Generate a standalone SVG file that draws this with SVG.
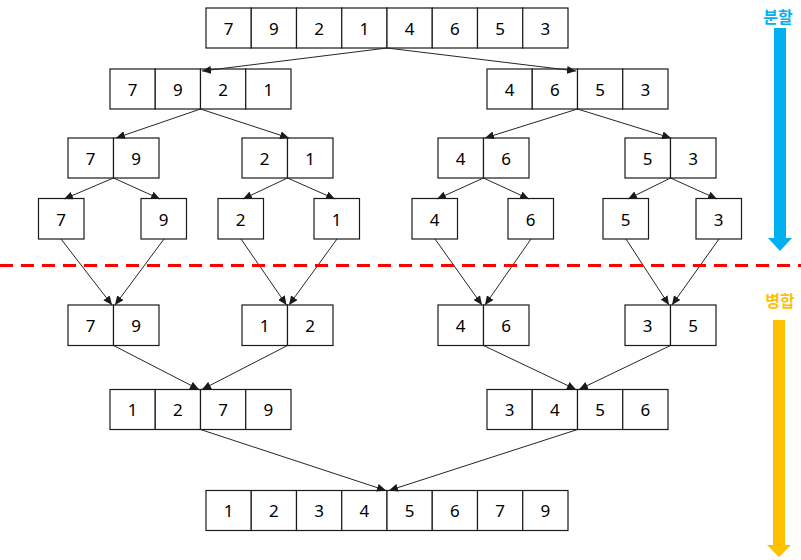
<svg xmlns="http://www.w3.org/2000/svg" width="801" height="560" viewBox="0 0 801 560">
<style>
.c{fill:#fff;stroke:#1a1a1a;stroke-width:1.2}
.t{font-family:"Noto Sans","DejaVu Sans",sans-serif;font-size:17px;fill:#000;text-anchor:middle;dominant-baseline:central}
.k{font-family:"Noto Sans CJK KR",sans-serif;font-size:16px;font-weight:bold;text-anchor:middle;dominant-baseline:central}
.a{stroke:#262626;stroke-width:1;fill:none;marker-end:url(#ah)}
</style>
<defs>
<marker id="ah" markerUnits="userSpaceOnUse" markerWidth="10" markerHeight="8" refX="9" refY="4" orient="auto">
<path d="M0,0 L9,4 L0,8 z" fill="#1a1a1a"/>
</marker>
</defs>
<rect width="801" height="560" fill="#fff"/>

<g id="row1">
<rect class="c" x="206" y="8" width="45.25" height="40"/><text class="t" x="228.6" y="28">7</text>
<rect class="c" x="251.25" y="8" width="45.25" height="40"/><text class="t" x="273.9" y="28">9</text>
<rect class="c" x="296.5" y="8" width="45.25" height="40"/><text class="t" x="319.1" y="28">2</text>
<rect class="c" x="341.75" y="8" width="45.25" height="40"/><text class="t" x="364.4" y="28">1</text>
<rect class="c" x="387" y="8" width="45.25" height="40"/><text class="t" x="409.6" y="28">4</text>
<rect class="c" x="432.25" y="8" width="45.25" height="40"/><text class="t" x="454.9" y="28">6</text>
<rect class="c" x="477.5" y="8" width="45.25" height="40"/><text class="t" x="500.1" y="28">5</text>
<rect class="c" x="522.75" y="8" width="45.25" height="40"/><text class="t" x="545.4" y="28">3</text>
</g>

<g id="row2-left">
<rect class="c" x="110" y="69" width="45.25" height="40"/><text class="t" x="132.6" y="89">7</text>
<rect class="c" x="155.25" y="69" width="45.25" height="40"/><text class="t" x="177.9" y="89">9</text>
<rect class="c" x="200.5" y="69" width="45.25" height="40"/><text class="t" x="223.1" y="89">2</text>
<rect class="c" x="245.75" y="69" width="45.25" height="40"/><text class="t" x="268.4" y="89">1</text>
</g>
<g id="row2-right">
<rect class="c" x="487" y="69" width="45.25" height="40"/><text class="t" x="509.6" y="89">4</text>
<rect class="c" x="532.25" y="69" width="45.25" height="40"/><text class="t" x="554.9" y="89">6</text>
<rect class="c" x="577.5" y="69" width="45.25" height="40"/><text class="t" x="600.1" y="89">5</text>
<rect class="c" x="622.75" y="69" width="45.25" height="40"/><text class="t" x="645.4" y="89">3</text>
</g>

<g id="row3-a">
<rect class="c" x="68" y="138" width="45.5" height="40"/><text class="t" x="90.7" y="158">7</text>
<rect class="c" x="113.5" y="138" width="45.5" height="40"/><text class="t" x="136.2" y="158">9</text>
</g>
<g id="row3-b">
<rect class="c" x="242" y="138" width="45.5" height="40"/><text class="t" x="264.7" y="158">2</text>
<rect class="c" x="287.5" y="138" width="45.5" height="40"/><text class="t" x="310.2" y="158">1</text>
</g>
<g id="row3-c">
<rect class="c" x="438" y="138" width="45.5" height="40"/><text class="t" x="460.7" y="158">4</text>
<rect class="c" x="483.5" y="138" width="45.5" height="40"/><text class="t" x="506.2" y="158">6</text>
</g>
<g id="row3-d">
<rect class="c" x="625" y="138" width="45.5" height="40"/><text class="t" x="647.7" y="158">5</text>
<rect class="c" x="670.5" y="138" width="45.5" height="40"/><text class="t" x="693.2" y="158">3</text>
</g>

<g id="s7"><rect class="c" x="38.5" y="198.5" width="45.5" height="40.5"/><text class="t" x="61.2" y="219">7</text></g>
<g id="s9"><rect class="c" x="141" y="198.5" width="45.5" height="40.5"/><text class="t" x="163.7" y="219">9</text></g>
<g id="s2"><rect class="c" x="218" y="198.5" width="45.5" height="40.5"/><text class="t" x="240.7" y="219">2</text></g>
<g id="s1"><rect class="c" x="314" y="198.5" width="45.5" height="40.5"/><text class="t" x="336.7" y="219">1</text></g>
<g id="s4"><rect class="c" x="412" y="198.5" width="45.5" height="40.5"/><text class="t" x="434.7" y="219">4</text></g>
<g id="s6"><rect class="c" x="508" y="198.5" width="45.5" height="40.5"/><text class="t" x="530.7" y="219">6</text></g>
<g id="s5"><rect class="c" x="603" y="198.5" width="45.5" height="40.5"/><text class="t" x="625.7" y="219">5</text></g>
<g id="s3"><rect class="c" x="696" y="198.5" width="45.5" height="40.5"/><text class="t" x="718.7" y="219">3</text></g>

<g id="row5-a">
<rect class="c" x="68" y="305" width="45.5" height="40.5"/><text class="t" x="90.7" y="325">7</text>
<rect class="c" x="113.5" y="305" width="45.5" height="40.5"/><text class="t" x="136.2" y="325">9</text>
</g>
<g id="row5-b">
<rect class="c" x="242" y="305" width="45.5" height="40.5"/><text class="t" x="264.7" y="325">1</text>
<rect class="c" x="287.5" y="305" width="45.5" height="40.5"/><text class="t" x="310.2" y="325">2</text>
</g>
<g id="row5-c">
<rect class="c" x="438" y="305" width="45.5" height="40.5"/><text class="t" x="460.7" y="325">4</text>
<rect class="c" x="483.5" y="305" width="45.5" height="40.5"/><text class="t" x="506.2" y="325">6</text>
</g>
<g id="row5-d">
<rect class="c" x="625" y="305" width="45.5" height="40.5"/><text class="t" x="647.7" y="325">3</text>
<rect class="c" x="670.5" y="305" width="45.5" height="40.5"/><text class="t" x="693.2" y="325">5</text>
</g>

<g id="row6-left">
<rect class="c" x="110" y="389.5" width="45.25" height="40"/><text class="t" x="132.6" y="409.5">1</text>
<rect class="c" x="155.25" y="389.5" width="45.25" height="40"/><text class="t" x="177.9" y="409.5">2</text>
<rect class="c" x="200.5" y="389.5" width="45.25" height="40"/><text class="t" x="223.1" y="409.5">7</text>
<rect class="c" x="245.75" y="389.5" width="45.25" height="40"/><text class="t" x="268.4" y="409.5">9</text>
</g>
<g id="row6-right">
<rect class="c" x="487" y="389.5" width="45.25" height="40"/><text class="t" x="509.6" y="409.5">3</text>
<rect class="c" x="532.25" y="389.5" width="45.25" height="40"/><text class="t" x="554.9" y="409.5">4</text>
<rect class="c" x="577.5" y="389.5" width="45.25" height="40"/><text class="t" x="600.1" y="409.5">5</text>
<rect class="c" x="622.75" y="389.5" width="45.25" height="40"/><text class="t" x="645.4" y="409.5">6</text>
</g>

<g id="row7">
<rect class="c" x="206" y="490.5" width="45.25" height="40"/><text class="t" x="228.6" y="510.5">1</text>
<rect class="c" x="251.25" y="490.5" width="45.25" height="40"/><text class="t" x="273.9" y="510.5">2</text>
<rect class="c" x="296.5" y="490.5" width="45.25" height="40"/><text class="t" x="319.1" y="510.5">3</text>
<rect class="c" x="341.75" y="490.5" width="45.25" height="40"/><text class="t" x="364.4" y="510.5">4</text>
<rect class="c" x="387" y="490.5" width="45.25" height="40"/><text class="t" x="409.6" y="510.5">5</text>
<rect class="c" x="432.25" y="490.5" width="45.25" height="40"/><text class="t" x="454.9" y="510.5">6</text>
<rect class="c" x="477.5" y="490.5" width="45.25" height="40"/><text class="t" x="500.1" y="510.5">7</text>
<rect class="c" x="522.75" y="490.5" width="45.25" height="40"/><text class="t" x="545.4" y="510.5">9</text>
</g>

<g id="connectors">
<line class="a" x1="387" y1="48" x2="202" y2="71"/>
<line class="a" x1="387" y1="48" x2="576" y2="71"/>
<line class="a" x1="200.5" y1="109" x2="116" y2="138"/>
<line class="a" x1="200.5" y1="109" x2="289" y2="138"/>
<line class="a" x1="577.5" y1="109" x2="485" y2="138"/>
<line class="a" x1="577.5" y1="109" x2="671" y2="138"/>
<line class="a" x1="113.5" y1="178" x2="64" y2="199"/>
<line class="a" x1="113.5" y1="178" x2="160" y2="199"/>
<line class="a" x1="287.5" y1="178" x2="243" y2="199"/>
<line class="a" x1="287.5" y1="178" x2="335" y2="199"/>
<line class="a" x1="483.5" y1="178" x2="437" y2="199"/>
<line class="a" x1="483.5" y1="178" x2="529" y2="199"/>
<line class="a" x1="670.5" y1="178" x2="628" y2="199"/>
<line class="a" x1="670.5" y1="178" x2="717" y2="199"/>
<line class="a" x1="61" y1="239" x2="112" y2="305"/>
<line class="a" x1="164" y1="239" x2="115" y2="305"/>
<line class="a" x1="241" y1="239" x2="286.5" y2="305"/>
<line class="a" x1="337" y1="239" x2="289" y2="305"/>
<line class="a" x1="435" y1="239" x2="482" y2="305"/>
<line class="a" x1="531" y1="239" x2="485" y2="305"/>
<line class="a" x1="626" y1="239" x2="669" y2="305"/>
<line class="a" x1="719" y1="239" x2="672" y2="305"/>
<line class="a" x1="113.5" y1="345.5" x2="199" y2="389.5"/>
<line class="a" x1="287.5" y1="345.5" x2="202" y2="389.5"/>
<line class="a" x1="483.5" y1="345.5" x2="576" y2="389.5"/>
<line class="a" x1="670.5" y1="345.5" x2="579" y2="389.5"/>
<line class="a" x1="200.5" y1="429.5" x2="386" y2="490.5"/>
<line class="a" x1="577.5" y1="429.5" x2="389" y2="490.5"/>
</g>

<line x1="0" y1="265.5" x2="801" y2="265.5" stroke="#ff0000" stroke-width="3" stroke-dasharray="13,8"/>

<g id="split-label">
<text class="k" x="778" y="16" fill="#00b0f0">분할</text>
<path d="M774,28 H786 V238 H792 L780,251 L768,238 H774 Z" fill="#00b0f0"/>
</g>
<g id="merge-label">
<text class="k" x="780" y="300" fill="#ffc000">병합</text>
<path d="M773,320 H785 V545 H791 L779,557 L767,545 H773 Z" fill="#ffc000"/>
</g>
</svg>
